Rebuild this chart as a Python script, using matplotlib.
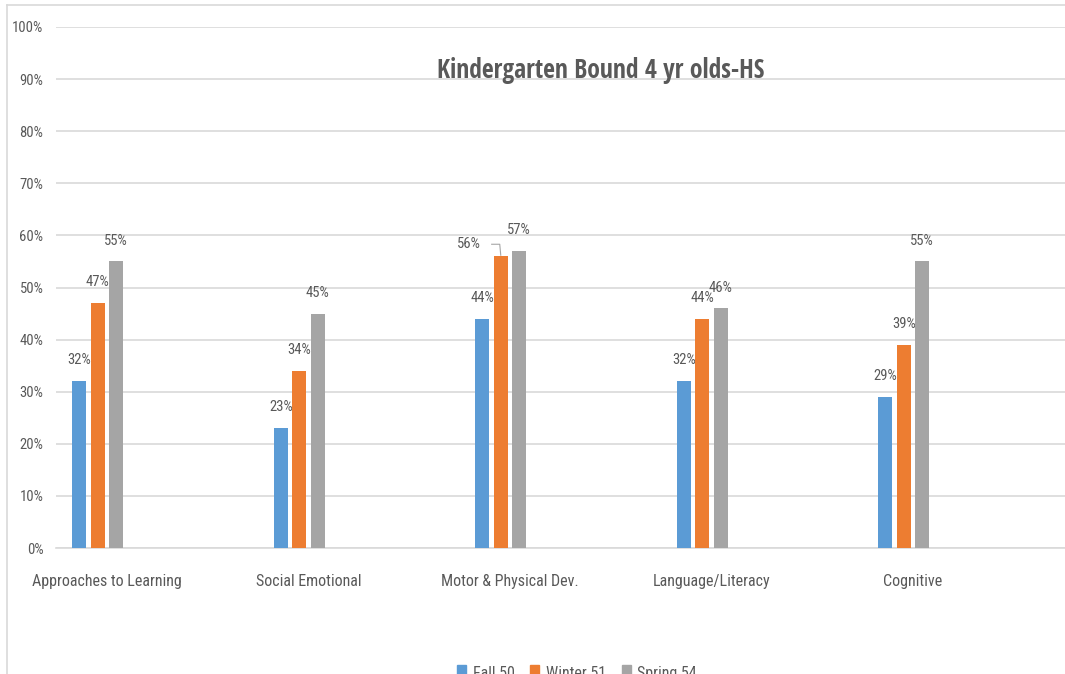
import matplotlib
matplotlib.use("Agg")
import matplotlib.pyplot as plt
from matplotlib.patches import Patch
from matplotlib.lines import Line2D
import numpy as np

plt.rcParams['font.family'] = ['Roboto Condensed', 'Open Sans', 'DejaVu Sans']

# data
categories = ["Approaches to Learning", "Social Emotional", "Motor & Physical Dev.",
              "Language/Literacy", "Cognitive"]
series_names = ["Fall 50", "Winter 51", "Spring 54"]
fall = [32, 23, 44, 32, 29]
winter = [47, 34, 56, 44, 39]
spring = [55, 45, 57, 46, 55]
title = "Kindergarten Bound 4 yr olds-HS"
y_ticks = [0, 10, 20, 30, 40, 50, 60, 70, 80, 90, 100]

colors = ["#5B9BD5", "#ED7D31", "#A5A5A5"]
txt_col = "#595959"
W, H = 1065, 674

fig = plt.figure(figsize=(W / 100, H / 100), dpi=100)
ax = fig.add_axes([56 / W, (H - 548) / H, (1065 - 56) / W, (548 - 27) / H])

x = np.arange(len(categories))
step = 0.0918
bw = 0.0695
# excel layout: 4 slots per group, the last one is empty
offsets = [-1.5 * step, -0.5 * step, 0.5 * step]
all_vals = [fall, winter, spring]

for vals, off, c, name in zip(all_vals, offsets, colors, series_names):
    ax.bar(x + off, vals, width=bw, color=c, label=name, zorder=3)
    for i, (xi, v) in enumerate(zip(x + off, vals)):
        if name == "Winter 51" and i == 2:
            # label moved left with a leader line
            ax.annotate(f"{v}%", xy=(xi, v), xytext=(-14, 9), textcoords="offset points",
                        ha="right", va="center", fontsize=10.5, color=txt_col)
            ax.plot([xi - 0.045, xi - 0.005, xi], [v + 2.3, v + 2.3, v + 0.2],
                    color="#A6A6A6", lw=0.8, zorder=4, clip_on=False)
            continue
        ax.annotate(f"{v}%", xy=(xi, v), xytext=(0, 15), textcoords="offset points",
                    ha="center", va="center", fontsize=10.5, color=txt_col)

left = (56 - 107) / 201.5
right = (1065 - 107) / 201.5
ax.set_xlim(left, right)
ax.set_ylim(0, 100)
ax.set_yticks(y_ticks)
ax.set_yticklabels([f"{t}%" for t in y_ticks], fontsize=10.5, color=txt_col)
ax.set_xticks(x)
ax.set_xticklabels(categories, fontsize=11.5, color=txt_col)
ax.tick_params(axis="both", length=0)
ax.tick_params(axis="x", pad=19)
ax.tick_params(axis="y", pad=9)
ax.grid(axis="y", color="#D9D9D9", lw=1.2, zorder=0)
for s in ["top", "right", "left"]:
    ax.spines[s].set_visible(False)
ax.spines["bottom"].set_color("#D9D9D9")
ax.spines["bottom"].set_linewidth(1.2)

fig.text(601 / W, 1 - 70 / H, title, ha="center", va="center", fontsize=18.5,
         fontweight="bold", color=txt_col, family=['Open Sans Condensed', 'Open Sans'])

# chart border
fig.add_artist(Line2D([7 / W, 7 / W], [0, 1 - 5 / H], color="#D9D9D9", lw=1.2))
fig.add_artist(Line2D([7 / W, 1], [1 - 5 / H, 1 - 5 / H], color="#D9D9D9", lw=1.2))

handles = [Patch(color=c) for c in colors]
fig.legend(handles, series_names, loc="center", bbox_to_anchor=(577 / W, 1 / H),
           ncol=3, frameon=False, fontsize=11.5, handlelength=0.55, handleheight=0.9,
           handletextpad=0.4, columnspacing=1.0, labelcolor=txt_col)

fig.savefig("out.png", dpi=100)
